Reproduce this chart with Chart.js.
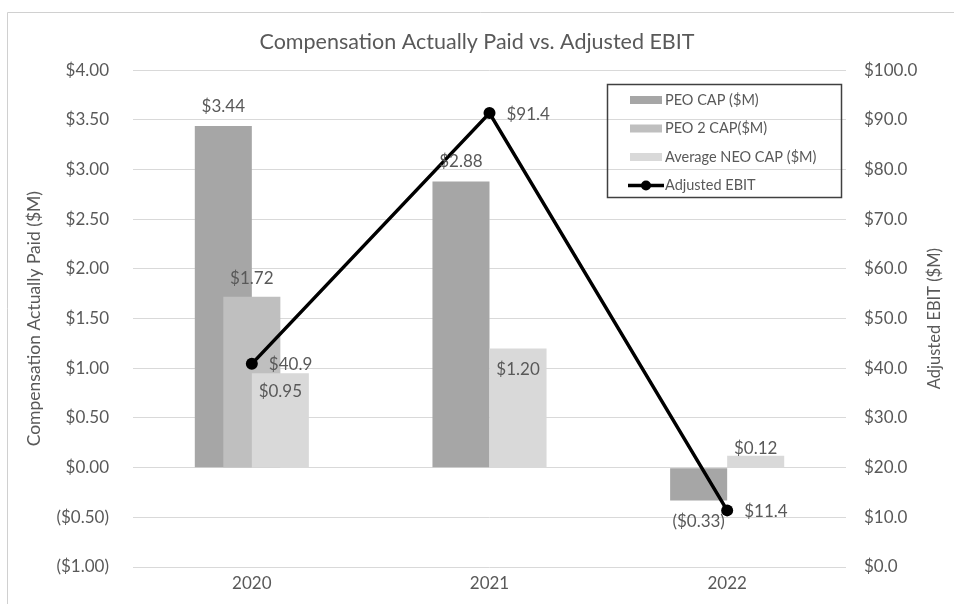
<!DOCTYPE html>
<html><head><meta charset="utf-8">
<script src="https://cdn.jsdelivr.net/npm/chart.js@4/dist/chart.umd.min.js"></script>
<style>html,body{margin:0;padding:0;background:#fff}#wrap{width:954px;height:604px}</style>
</head><body><div id="wrap"><canvas id="c" width="954" height="604"></canvas></div>
<script>
const years = ['2020', '2021', '2022'];
const peoCap = [3.44, 2.88, -0.33];
const peo2Cap = [1.72, null, null];
const avgNeoCap = [0.95, 1.20, 0.12];
const adjustedEbit = [40.9, 91.4, 11.4];
const seriesNames = ['PEO CAP ($M)', 'PEO 2 CAP($M)', 'Average NEO CAP ($M)', 'Adjusted EBIT'];
const leftTickLabels = ['($1.00)', '($0.50)', '$0.00', '$0.50', '$1.00', '$1.50', '$2.00', '$2.50', '$3.00', '$3.50', '$4.00'];
const rightTickLabels = ['$0.0', '$10.0', '$20.0', '$30.0', '$40.0', '$50.0', '$60.0', '$70.0', '$80.0', '$90.0', '$100.0'];
const chartTitle = 'Compensation Actually Paid vs. Adjusted EBIT';
const leftAxisTitle = 'Compensation Actually Paid ($M)';
const rightAxisTitle = 'Adjusted EBIT ($M)';

const FONT = 'Lato';
const TXT = '#595959';
const barColors = ['#a6a6a6', '#bfbfbf', '#d9d9d9'];

function fmtMoney2(v) { return v < 0 ? '($' + Math.abs(v).toFixed(2) + ')' : '$' + v.toFixed(2); }
function fmtMoney1(v) { return '$' + v.toFixed(1); }

// label vertical offsets (px) relative to the bar end, per dataset & index
const labelOffsets = { 0: [-19, -20, 21], 1: [-18, 0, 0], 2: [18, 21, -7] };

const custom = {
  id: 'custom',
  beforeDraw(chart) {
    const ctx = chart.ctx;
    ctx.save();
    ctx.fillStyle = '#fff';
    ctx.fillRect(0, 0, chart.width, chart.height);
    ctx.strokeStyle = '#d0d0d0';
    ctx.lineWidth = 1;
    ctx.beginPath();
    ctx.moveTo(7.5, chart.height);
    ctx.lineTo(7.5, 12.5);
    ctx.lineTo(chart.width, 12.5);
    ctx.stroke();
    ctx.restore();
  },
  beforeDatasetsDraw(chart) {
    chart.data.datasets.forEach((ds, i) => {
      const m = chart.getDatasetMeta(i);
      if (m.type === 'bar' && m.visible) m.controller.draw();
    });
  },
  beforeDatasetDraw(chart, args) {
    if (args.meta.type === 'bar') return false;
  },
  afterDatasetsDraw(chart) {
    const ctx = chart.ctx;
    ctx.save();
    ctx.font = '17px ' + FONT;
    ctx.fillStyle = TXT;
    ctx.textBaseline = 'middle';
    chart.data.datasets.forEach((ds, i) => {
      const m = chart.getDatasetMeta(i);
      m.data.forEach((el, j) => {
        const v = ds.data[j];
        if (v === null || v === undefined) return;
        if (m.type === 'bar') {
          ctx.textAlign = 'center';
          ctx.fillText(fmtMoney2(v), el.x, el.y + labelOffsets[i][j]);
        } else {
          ctx.textAlign = 'left';
          ctx.fillText(fmtMoney1(v), el.x + 17, el.y + 1);
        }
      });
    });
    ctx.restore();
  },
  afterDraw(chart) {
    const ctx = chart.ctx;
    ctx.save();
    // right axis title (reads bottom to top)
    const ca = chart.chartArea;
    ctx.font = '16.5px ' + FONT;
    ctx.fillStyle = TXT;
    ctx.textAlign = 'center';
    ctx.textBaseline = 'middle';
    ctx.translate(935, (ca.top + ca.bottom) / 2);
    ctx.rotate(-Math.PI / 2);
    ctx.fillText(rightAxisTitle, 0, 0);
    ctx.restore();

    // legend
    ctx.save();
    ctx.strokeStyle = '#404040';
    ctx.lineWidth = 1.5;
    ctx.strokeRect(607.5, 84.5, 234, 113);
    ctx.font = '14.5px ' + FONT;
    ctx.textAlign = 'left';
    ctx.textBaseline = 'middle';
    const ys = [100, 128.5, 157, 185.5];
    chart.data.datasets.forEach((ds, i) => {
      const y = ys[i];
      if (ds.type === 'line') {
        ctx.strokeStyle = '#000';
        ctx.lineWidth = 3.5;
        ctx.beginPath(); ctx.moveTo(628, y); ctx.lineTo(664, y); ctx.stroke();
        ctx.fillStyle = '#000';
        ctx.beginPath(); ctx.arc(646, y, 5, 0, Math.PI * 2); ctx.fill();
      } else {
        ctx.fillStyle = ds.backgroundColor;
        ctx.fillRect(630, y - 4, 32, 8);
      }
      ctx.fillStyle = TXT;
      ctx.fillText(ds.label, 665, y);
    });
    ctx.restore();
  }
};

const barCommon = { borderWidth: 0, categoryPercentage: 0.36, barPercentage: 2, yAxisID: 'y' };

new Chart(document.getElementById('c'), {
  type: 'bar',
  data: {
    labels: years,
    datasets: [
      Object.assign({ label: seriesNames[0], data: peoCap, backgroundColor: barColors[0] }, barCommon),
      Object.assign({ label: seriesNames[1], data: peo2Cap, backgroundColor: barColors[1] }, barCommon),
      Object.assign({ label: seriesNames[2], data: avgNeoCap, backgroundColor: barColors[2] }, barCommon),
      { type: 'line', label: seriesNames[3], data: adjustedEbit, yAxisID: 'y1', order: -1,
        borderColor: '#000', borderWidth: 3.5, pointRadius: 6, pointBackgroundColor: '#000',
        pointBorderWidth: 0, tension: 0, fill: false }
    ]
  },
  options: {
    responsive: false,
    animation: false,
    devicePixelRatio: 1,
    layout: { padding: { top: 0, left: 0, right: 0, bottom: 0 } },
    plugins: {
      legend: { display: false },
      tooltip: { enabled: false },
      title: { display: true, text: chartTitle, color: TXT, font: { family: FONT, size: 21.5, weight: 'normal' },
               padding: { top: 29.5, bottom: 15 } }
    },
    scales: {
      x: {
        grid: { display: false, drawTicks: false },
        border: { display: false },
        ticks: { color: TXT, font: { family: FONT, size: 17 }, padding: 6 },
        afterFit(s) { s.height = 37; }
      },
      y: {
        position: 'left',
        min: -1, max: 4,
        ticks: { stepSize: 0.5, color: TXT, font: { family: FONT, size: 17 }, padding: 24,
                 callback: (v, i) => leftTickLabels[i] },
        grid: { color: '#d9d9d9', lineWidth: 1, drawTicks: false },
        border: { display: false },
        title: { display: true, text: leftAxisTitle, color: TXT, font: { family: FONT, size: 17.5 }, padding: { top: 24, bottom: 0 } },
        afterFit(s) { s.width = 133; }
      },
      y1: {
        position: 'right',
        min: 0, max: 100,
        ticks: { stepSize: 10, color: TXT, font: { family: FONT, size: 17 }, padding: 18,
                 callback: (v, i) => rightTickLabels[i] },
        grid: { display: false, drawTicks: false },
        border: { display: false },
        afterFit(s) { s.width = 108; }
      }
    }
  },
  plugins: [custom]
});
</script>
</body></html>
